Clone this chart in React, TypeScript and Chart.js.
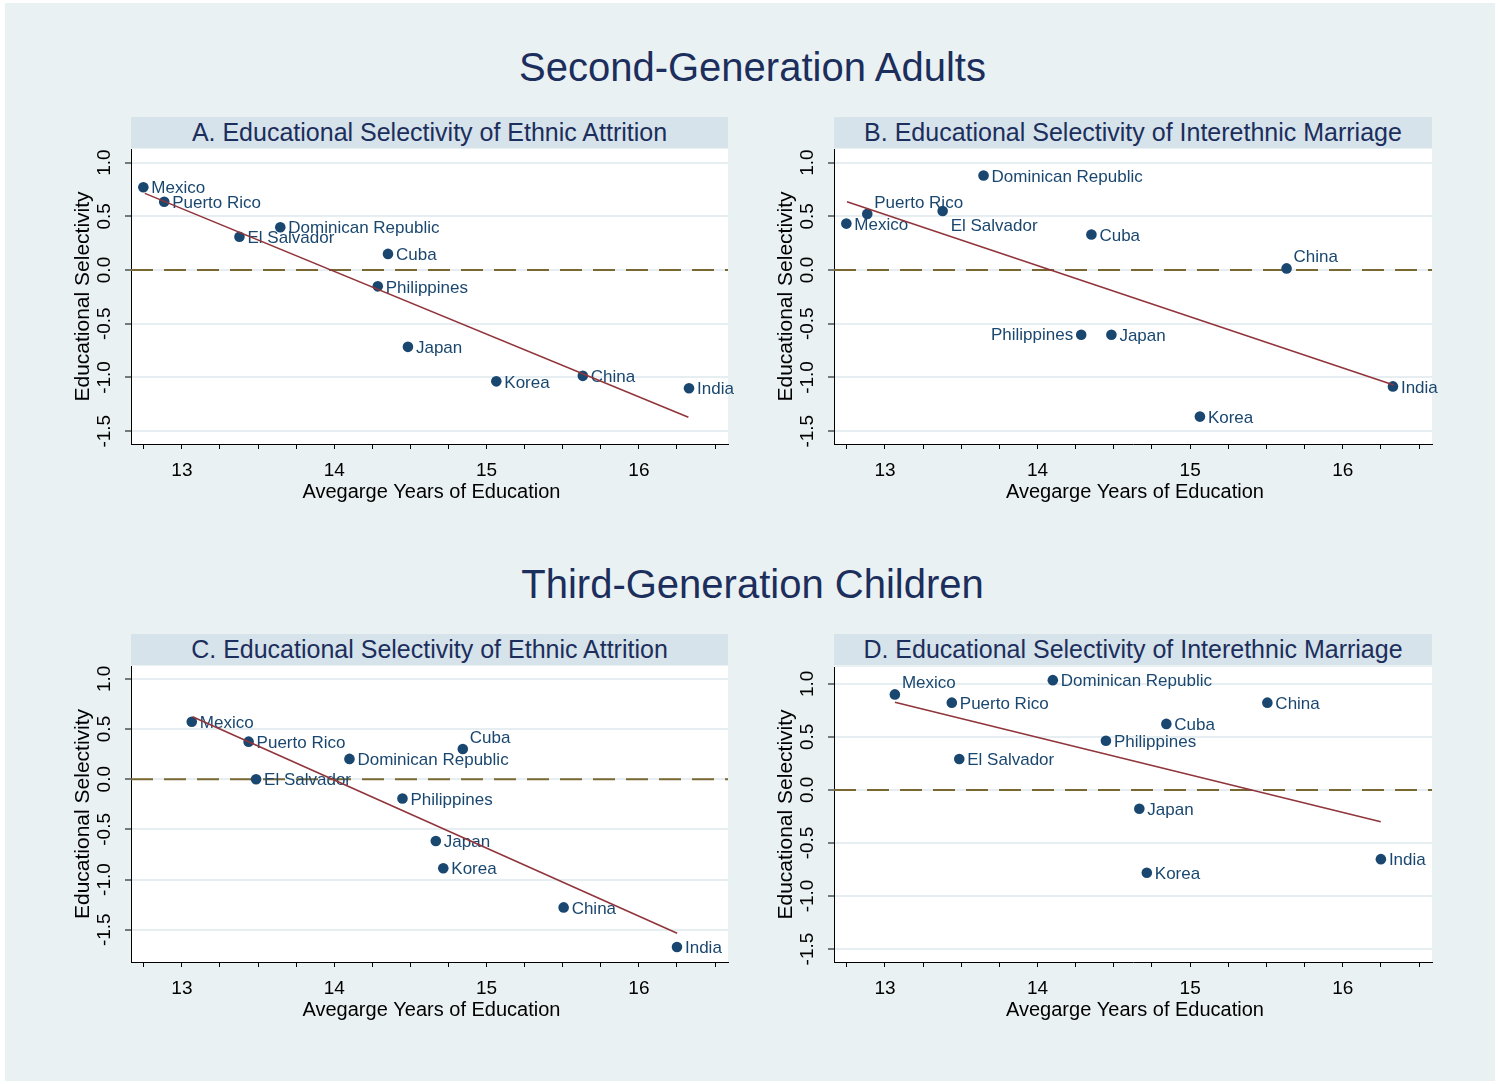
import React, { useEffect, useRef } from 'react';
import Chart from 'chart.js/auto';

// ---------- data ----------
const countries = ['Mexico', 'Puerto Rico', 'El Salvador', 'Dominican Republic', 'Cuba', 'Philippines', 'Japan', 'Korea', 'China', 'India'];

// average years of education (x)
const eduAdults = [12.747, 12.884, 13.378, 13.646, 14.353, 14.286, 14.484, 15.064, 15.632, 16.329];
const eduChildren = [13.065, 13.438, 13.487, 14.1, 14.844, 14.448, 14.667, 14.716, 15.506, 16.25];

// educational selectivity (y)
const selA = [0.77, 0.635, 0.31, 0.398, 0.15, -0.152, -0.715, -1.036, -0.985, -1.1];
const selB = [0.432, 0.522, 0.549, 0.88, 0.33, -0.602, -0.602, -1.364, 0.015, -1.083];
const selC = [0.573, 0.374, 0.0, 0.202, 0.301, -0.192, -0.616, -0.887, -1.278, -1.672];
const selD = [0.9, 0.822, 0.291, 1.034, 0.622, 0.463, -0.178, -0.781, 0.822, -0.653];

// label clock positions
const labPosA = [3, 3, 3, 3, 3, 3, 3, 3, 3, 3];
const labPosB = [3, 1, 5, 3, 3, 9, 3, 3, 1, 3];
const labPosC = [3, 3, 3, 3, 1, 3, 3, 3, 3, 3];
const labPosD = [1, 3, 3, 3, 3, 3, 3, 3, 3, 3];

// fitted line endpoints
const fitXA = [12.757, 16.325];
const fitYA = [0.713, -1.37];
const fitXB = [12.751, 16.334];
const fitYB = [0.636, -1.071];
const fitXC = [13.07, 16.251];
const fitYC = [0.623, -1.536];
const fitXD = [13.065, 16.249];
const fitYD = [0.825, -0.3];

// axes
const xRange = [12.666, 16.585];
const xTicks = [12.75, 13, 13.25, 13.5, 13.75, 14, 14.25, 14.5, 14.75, 15, 15.25, 15.5, 15.75, 16, 16.25, 16.5];
const yTicks = [-1.5, -1, -0.5, 0, 0.5, 1];
const yRangeA = [-1.619, 1.126];
const yRangeB = [-1.619, 1.126];
const yRangeC = [-1.822, 1.128];
const yRangeD = [-1.622, 1.158];

const groupTitles = ['Second-Generation Adults', 'Third-Generation Children'];
const panelTitles = [
  'A. Educational Selectivity of Ethnic Attrition',
  'B. Educational Selectivity of Interethnic Marriage',
  'C. Educational Selectivity of Ethnic Attrition',
  'D. Educational Selectivity of Interethnic Marriage',
];
const xTitle = 'Avegarge Years of Education';
const yTitle = 'Educational Selectivity';

// ---------- styles ----------
const FONT = '"Liberation Sans", Arial, Helvetica, sans-serif';
const BG = '#eaf1f3';
const BAND = '#d6e3ea';
const NAVY = '#1a476f';
const TITLE = '#1c2e5c';
const MAROON = '#90353b';
const OLIVE = '#7a6833';
const GRID = '#e6eef1';

type Panel = {
  title: string;
  x: number[];
  y: number[];
  pos: number[];
  fitX: number[];
  fitY: number[];
  yRange: number[];
  left: number; top: number; right: number; bottom: number; bandTop: number;
};

const panels: Panel[] = [
  { title: panelTitles[0], x: eduAdults, y: selA, pos: labPosA, fitX: fitXA, fitY: fitYA, yRange: yRangeA, left: 131, top: 149, right: 728, bottom: 444, bandTop: 117 },
  { title: panelTitles[1], x: eduAdults, y: selB, pos: labPosB, fitX: fitXB, fitY: fitYB, yRange: yRangeB, left: 834, top: 149, right: 1432, bottom: 444, bandTop: 117 },
  { title: panelTitles[2], x: eduChildren, y: selC, pos: labPosC, fitX: fitXC, fitY: fitYC, yRange: yRangeC, left: 131, top: 666, right: 728, bottom: 962, bandTop: 634 },
  { title: panelTitles[3], x: eduChildren, y: selD, pos: labPosD, fitX: fitXD, fitY: fitYD, yRange: yRangeD, left: 834, top: 667, right: 1432, bottom: 962, bandTop: 634 },
];

const PAD_L = 71;
const PAD_T = 39;
const PAD_R = 32;
const PAD_B = 68;

const textPlugin = {
  id: 'panelText',
  afterDatasetDraw(chart: any, args: any) {
    if (args.index !== 1) return;
    const { ctx } = chart;
    const meta = chart.getDatasetMeta(1);
    const pos: number[] = chart.options.plugins.panelText.pos;
    ctx.save();
    ctx.font = `17px ${FONT}`;
    ctx.fillStyle = NAVY;
    ctx.textBaseline = 'middle';
    meta.data.forEach((el: any, i: number) => {
      const p = pos[i];
      let dx = 8, dy = 1.5, align: CanvasTextAlign = 'left';
      if (p === 1) { dx = 7; dy = -11; }
      else if (p === 5) { dx = 8; dy = 15; }
      else if (p === 9) { dx = -8; dy = 1; align = 'right'; }
      ctx.textAlign = align;
      ctx.fillText(countries[i], el.x + dx, el.y + dy);
    });
    ctx.restore();
  },
  afterDraw(chart: any) {
    const { ctx, chartArea, scales } = chart;
    const ys = scales.y;
    ctx.save();
    ctx.fillStyle = '#000';
    ctx.font = `19px ${FONT}`;
    ctx.textAlign = 'center';
    ctx.textBaseline = 'middle';
    yTicks.forEach((v) => {
      const py = ys.getPixelForValue(v);
      ctx.save();
      ctx.translate(chartArea.left - 26, py);
      ctx.rotate(-Math.PI / 2);
      ctx.fillText(v.toFixed(1), 0, 0);
      ctx.restore();
    });
    // y axis title
    ctx.save();
    ctx.font = `21px ${FONT}`;
    ctx.translate(chartArea.left - 48, (chartArea.top + chartArea.bottom) / 2);
    ctx.rotate(-Math.PI / 2);
    ctx.fillText(yTitle, 0, 0);
    ctx.restore();
    // x axis title
    ctx.font = `20px ${FONT}`;
    ctx.fillText(xTitle, (chartArea.left + chartArea.right) / 2 + 2, chartArea.bottom + 48);
    ctx.restore();
  },
};

function PanelChart({ p }: { p: Panel }) {
  const ref = useRef<HTMLCanvasElement | null>(null);
  const w = p.right - p.left + PAD_L + PAD_R;
  const h = p.bottom - p.top + PAD_T + PAD_B;
  useEffect(() => {
    if (!ref.current) return;
    const chart = new Chart(ref.current, {
      type: 'scatter',
      data: {
        datasets: [
          {
            type: 'line',
            data: [{ x: xRange[0], y: 0 }, { x: xRange[1], y: 0 }],
            borderColor: OLIVE,
            borderWidth: 2,
            borderDash: [22, 11],
            pointRadius: 0,
            order: 3,
          } as any,
          {
            type: 'scatter',
            data: p.x.map((x, i) => ({ x, y: p.y[i] })),
            backgroundColor: NAVY,
            borderColor: NAVY,
            borderWidth: 0,
            pointRadius: 5.3,
            order: 2,
          },
          {
            type: 'line',
            data: p.fitX.map((x, i) => ({ x, y: p.fitY[i] })),
            borderColor: MAROON,
            borderWidth: 1.6,
            pointRadius: 0,
            order: 1,
          } as any,
        ],
      },
      options: {
        responsive: false,
        animation: false,
        events: [],
        layout: { padding: { left: 0, top: PAD_T, right: PAD_R, bottom: 0 } },
        plugins: {
          legend: { display: false },
          tooltip: { enabled: false },
          panelText: { pos: p.pos },
        } as any,
        scales: {
          x: {
            type: 'linear',
            min: xRange[0],
            max: xRange[1],
            afterBuildTicks: (s: any) => { s.ticks = xTicks.map((v) => ({ value: v })); },
            afterFit: (s: any) => { s.height = PAD_B; },
            ticks: {
              callback: (v: any) => (Number.isInteger(v) ? String(v) : ''),
              font: { size: 19, family: FONT },
              color: '#000',
              padding: 10,
              maxRotation: 0,
              minRotation: 0,
              autoSkip: false,
            },
            grid: { drawOnChartArea: false, drawTicks: true, tickLength: 5, tickColor: '#000', tickWidth: 1 },
            border: { display: true, color: '#000', width: 1 },
          },
          y: {
            type: 'linear',
            min: p.yRange[0],
            max: p.yRange[1],
            afterBuildTicks: (s: any) => { s.ticks = yTicks.map((v) => ({ value: v })); },
            afterFit: (s: any) => { s.width = PAD_L; },
            ticks: { display: false },
            grid: { color: GRID, lineWidth: 2, drawTicks: true, tickLength: 6, tickColor: '#000', tickWidth: 1 },
            border: { display: true, color: '#000', width: 1 },
          },
        },
      } as any,
      plugins: [textPlugin],
    });
    return () => chart.destroy();
  }, []);
  return (
    <canvas
      ref={ref}
      width={w}
      height={h}
      style={{ position: 'absolute', left: p.left - PAD_L, top: p.top - PAD_T, width: w, height: h }}
    />
  );
}

export default function App() {
  return (
    <div style={{ position: 'absolute', left: 0, top: 0, width: 1500, height: 1084, background: '#fff', fontFamily: FONT, overflow: 'hidden' }}>
      <div style={{ position: 'absolute', left: 5, top: 3, width: 1490, height: 1078, background: BG }} />
      {groupTitles.map((t, i) => (
        <div
          key={t}
          style={{ position: 'absolute', left: 0, width: 1505, top: i === 0 ? 46 : 563, height: 42, lineHeight: '42px', textAlign: 'center', fontSize: 40, color: TITLE }}
        >
          {t}
        </div>
      ))}
      {panels.map((p) => (
        <div
          key={p.title + 'band'}
          style={{ position: 'absolute', left: p.left, width: p.right - p.left, top: p.bandTop, height: 31, lineHeight: '31px', textAlign: 'center', fontSize: 25, color: TITLE, background: BAND }}
        >
          {p.title}
        </div>
      ))}
      {panels.map((p) => (
        <div key={p.title + 'plotbg'} style={{ position: 'absolute', left: p.left, top: p.top, width: p.right - p.left, height: p.bottom - p.top, background: '#fff' }} />
      ))}
      {panels.map((p) => (
        <PanelChart key={p.title} p={p} />
      ))}
    </div>
  );
}
